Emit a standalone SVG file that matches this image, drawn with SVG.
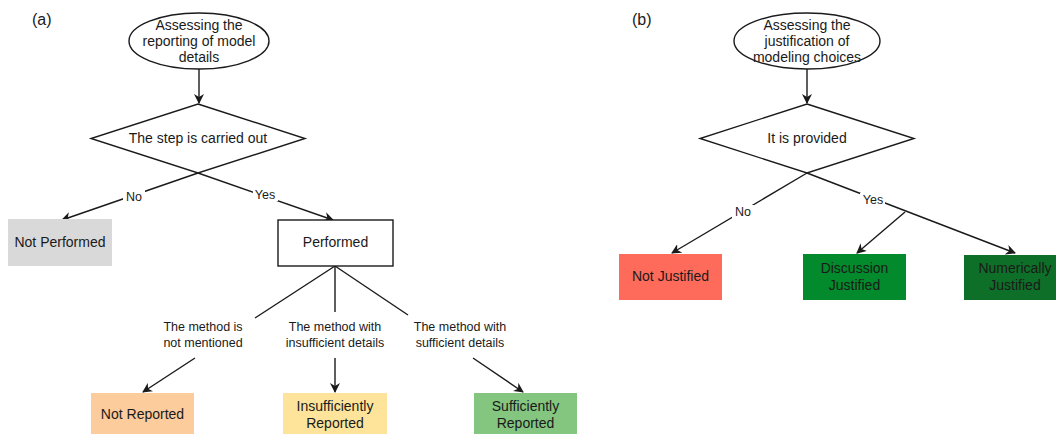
<svg xmlns="http://www.w3.org/2000/svg" width="1056" height="434" viewBox="0 0 1056 434">
<style>
text{font-family:"Liberation Sans",Arial,sans-serif;fill:#1a1a1a;text-anchor:middle}
.n{font-size:14px}
.l{font-size:12.5px}
.p{font-size:16px;text-anchor:start}
.s{fill:#fff;stroke:#1a1a1a;stroke-width:1.4}
.c{fill:none;stroke:#1a1a1a;stroke-width:1.4}
.a{marker-end:url(#ah)}
.bg{fill:#fff}
</style>
<defs>
<marker id="ah" viewBox="0 0 10 10" refX="9" refY="5" markerWidth="10" markerHeight="10" markerUnits="userSpaceOnUse" orient="auto">
<path d="M0,0 L10,5 L0,10 L3,5 Z" fill="#1a1a1a"/>
</marker>
</defs>
<text class="p" x="32" y="25">(a)</text>
<text class="p" x="632" y="25">(b)</text>
<g id="connectors">
<path class="c a" d="M199,69 V103"/>
<path class="c a" d="M198,173 L62,220"/>
<path class="c a" d="M198,173 L333,220"/>
<path class="c" d="M335,266 L255,318"/>
<path class="c" d="M335,266 V312"/>
<path class="c" d="M335,266 L408,315"/>
<path class="c a" d="M195,358 L143,392"/>
<path class="c a" d="M335,358 V392"/>
<path class="c a" d="M473,358 L523,392"/>
<path class="c a" d="M807,69 V103"/>
<path class="c a" d="M807,173 L672,253"/>
<path class="c a" d="M807,173 L1015,253"/>
<path class="c a" d="M905,212 L857,253"/>
<rect class="bg" x="123" y="189" width="22" height="14"/>
<text class="l" x="134" y="201">No</text>
<rect class="bg" x="253" y="187" width="25" height="14"/>
<text class="l" x="265" y="199">Yes</text>
<rect class="bg" x="732" y="205" width="22" height="14"/>
<text class="l" x="743" y="216">No</text>
<rect class="bg" x="860" y="193" width="25" height="14"/>
<text class="l" x="873" y="204">Yes</text>
<text class="l" x="203" y="331">The method is</text>
<text class="l" x="203" y="347">not mentioned</text>
<text class="l" x="335" y="331">The method with</text>
<text class="l" x="335" y="347">insufficient details</text>
<text class="l" x="460" y="331">The method with</text>
<text class="l" x="460" y="347">sufficient details</text>
</g>
<g id="start-a">
<ellipse class="s" cx="199" cy="41" rx="70" ry="28"/>
<text class="n" x="199" y="30">Assessing the</text>
<text class="n" x="199" y="46">reporting of model</text>
<text class="n" x="199" y="62">details</text>
</g>
<g id="decision-a">
<path class="s" d="M198,104 L305,138.5 L198,173 L91,138.5 Z"/>
<text class="n" x="198" y="143">The step is carried out</text>
</g>
<g id="not-performed">
<rect x="8" y="219" width="104" height="47" fill="#d9d9d9"/>
<text class="n" x="60" y="247">Not Performed</text>
</g>
<g id="performed">
<rect class="s" x="278" y="220" width="115" height="46"/>
<text class="n" x="335.5" y="247">Performed</text>
</g>
<g id="not-reported">
<rect x="91" y="393" width="103" height="45" fill="#fdcc9c"/>
<text class="n" x="142.5" y="419">Not Reported</text>
</g>
<g id="insufficiently-reported">
<rect x="283" y="393" width="104" height="45" fill="#fde49a"/>
<text class="n" x="335" y="411">Insufficiently</text>
<text class="n" x="335" y="428">Reported</text>
</g>
<g id="sufficiently-reported">
<rect x="474" y="393" width="103" height="45" fill="#84c580"/>
<text class="n" x="525.5" y="411">Sufficiently</text>
<text class="n" x="525.5" y="428">Reported</text>
</g>
<g id="start-b">
<ellipse class="s" cx="807" cy="41" rx="73" ry="28"/>
<text class="n" x="807" y="30">Assessing the</text>
<text class="n" x="807" y="46">justification of</text>
<text class="n" x="807" y="62">modeling choices</text>
</g>
<g id="decision-b">
<path class="s" d="M807,104 L914,138.5 L807,173 L700,138.5 Z"/>
<text class="n" x="807" y="143">It is provided</text>
</g>
<g id="not-justified">
<rect x="619" y="254" width="103" height="46" fill="#ff6b5a"/>
<text class="n" x="670.5" y="281">Not Justified</text>
</g>
<g id="discussion-justified">
<rect x="803" y="254" width="103" height="46" fill="#038a2c"/>
<text class="n" x="854.5" y="273">Discussion</text>
<text class="n" x="854.5" y="290">Justified</text>
</g>
<g id="numerically-justified">
<rect x="964" y="255" width="103" height="45" fill="#0e6f28"/>
<text class="n" x="1015" y="273">Numerically</text>
<text class="n" x="1015" y="290">Justified</text>
</g>
</svg>
